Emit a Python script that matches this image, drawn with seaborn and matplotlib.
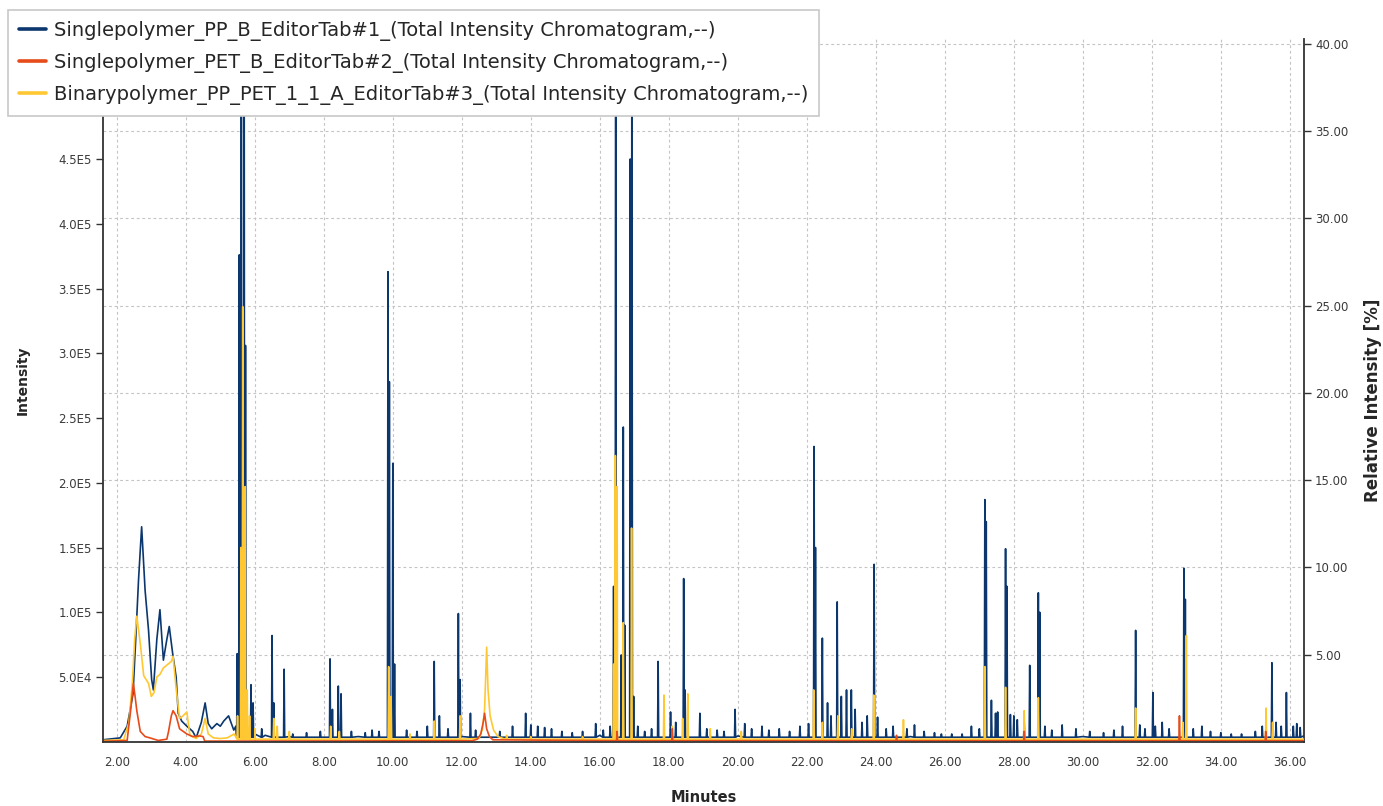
import numpy as np
import pandas as pd
import matplotlib
matplotlib.use("Agg")
import matplotlib.pyplot as plt
import seaborn as sns

# --- series labels / colours -------------------------------------------------
labels = [
    "Singlepolymer_PP_B_EditorTab#1_(Total Intensity Chromatogram,--)",
    "Singlepolymer_PET_B_EditorTab#2_(Total Intensity Chromatogram,--)",
    "Binarypolymer_PP_PET_1_1_A_EditorTab#3_(Total Intensity Chromatogram,--)",
]
colors = ["#0b376e", "#e64b19", "#ffc832"]

# --- PP (blue): slow profile + sharp peaks -----------------------------------
pp_base_t = [1.60, 2.10, 2.30, 2.47, 2.55, 2.63, 2.72, 2.82, 2.92, 3.01, 3.06, 3.16,
             3.25, 3.35, 3.45, 3.52, 3.62, 3.72, 3.78, 3.88, 4.03, 4.20, 4.30, 4.45,
             4.56, 4.65, 4.75, 4.90, 5.00, 5.10, 5.24, 5.39, 5.45, 6.00, 6.30, 7.00,
             9.00, 12.0, 16.0, 20.0, 25.0, 30.0, 36.4]
pp_base_i = [1500, 3000, 12000, 37000, 80000, 125000, 166000, 117000, 86000, 48000, 40000, 79000,
             102000, 63000, 79000, 89000, 68000, 50000, 22000, 16000, 12000, 8000, 3000, 15000,
             30000, 14000, 10000, 14000, 12000, 16000, 20000, 9000, 12000, 6000, 5000, 4000,
             4000, 4000, 5000, 4500, 4000, 4000, 4500]
pp_peak_t = [5.49, 5.55, 5.61, 5.69, 5.73, 5.89, 5.95, 6.20, 6.50, 6.55, 6.85, 7.10, 7.50, 7.90,
             8.18, 8.25, 8.42, 8.50, 8.80, 9.20, 9.40, 9.60, 9.86, 9.90, 10.00, 10.05, 10.40,
             10.70, 11.00, 11.20, 11.35, 11.60, 11.90, 11.95, 12.25, 12.40, 13.10, 13.47, 13.85,
             14.00, 14.20, 14.40, 14.60, 14.90, 15.20, 15.50, 15.88, 16.10, 16.30, 16.40, 16.46,
             16.62, 16.68, 16.72, 16.88, 16.93, 16.98, 17.10, 17.30, 17.50, 17.69, 18.05, 18.20,
             18.43, 18.47, 18.90, 19.10, 19.40, 19.60, 19.92, 20.20, 20.40, 20.70, 20.90, 21.20,
             21.50, 21.80, 22.05, 22.21, 22.25, 22.45, 22.60, 22.70, 22.88, 23.00, 23.15, 23.29,
             23.40, 23.60, 23.75, 23.95, 24.05, 24.30, 24.50, 24.90, 25.12, 25.40, 25.70, 25.90,
             26.20, 26.50, 26.77, 27.00, 27.16, 27.20, 27.35, 27.47, 27.53, 27.76, 27.80, 27.90,
             28.00, 28.10, 28.30, 28.46, 28.71, 28.75, 28.90, 29.10, 29.40, 29.80, 30.20, 30.60,
             30.90, 31.15, 31.53, 31.65, 31.80, 32.03, 32.10, 32.30, 32.50, 32.93, 32.97, 33.20,
             33.45, 33.70, 34.00, 34.30, 34.60, 35.00, 35.20, 35.48, 35.60, 35.75, 35.90, 36.10,
             36.20, 36.30]
pp_peak_i = [68000, 376000, 620000, 620000, 306000, 44000, 30000, 10000, 82000, 30000, 56000, 6000, 7000, 8000,
             64000, 25000, 43000, 37000, 8000, 7000, 9000, 8000, 363000, 278000, 215000, 60000, 9000,
             8000, 12000, 62000, 20000, 10000, 99000, 48000, 22000, 9000, 8000, 12000, 22000,
             13000, 12000, 11000, 10000, 8000, 7000, 8000, 14000, 9000, 12000, 120000, 620000,
             67000, 243000, 90000, 450000, 620000, 35000, 12000, 8000, 10000, 62000, 23000, 15000,
             126000, 40000, 22000, 10000, 9000, 8000, 25000, 14000, 10000, 12000, 9000, 10000,
             8000, 12000, 14000, 228000, 150000, 80000, 30000, 20000, 108000, 35000, 40000, 40000,
             25000, 15000, 20000, 137000, 19000, 10000, 12000, 10000, 13000, 8000, 7000, 6000,
             6000, 6000, 12000, 10000, 187000, 170000, 32000, 22000, 23000, 149000, 120000, 21000,
             20000, 17000, 15000, 59000, 115000, 100000, 12000, 9000, 13000, 10000, 8000, 7000,
             9000, 12000, 86000, 13000, 10000, 38000, 12000, 15000, 10000, 134000, 110000, 10000,
             12000, 8000, 7000, 6000, 6000, 8000, 12000, 61000, 15000, 12000, 38000, 12000,
             14000, 11000]

# --- PET (red) -----------------------------------------------------------------
pet_base_t = [1.60, 2.30, 2.40, 2.48, 2.53, 2.58, 2.68, 2.82, 2.96, 3.20, 3.45, 3.50, 3.58,
              3.63, 3.72, 3.82, 4.03, 4.20, 4.40, 4.50, 4.55, 12.30, 12.45, 12.55, 12.62,
              12.66, 12.72, 12.80, 12.90, 36.4]
pet_base_i = [300, 1000, 24000, 45000, 35000, 24000, 8000, 4000, 3000, 1000, 2000, 8000, 20000,
              24000, 20000, 10000, 6000, 4000, 4500, 4000, 500, 800, 2000, 6000, 15000,
              22000, 10000, 4000, 1500, 800]
pet_peak_t = [16.50, 18.10, 24.60, 28.30, 32.80, 35.30]
pet_peak_i = [8000, 10000, 5000, 8000, 20000, 8000]

# --- Binary PP/PET (yellow) --------------------------------------------------
bin_base_t = [1.60, 2.20, 2.35, 2.45, 2.52, 2.58, 2.68, 2.78, 2.92, 3.00, 3.08, 3.16, 3.25,
              3.35, 3.49, 3.58, 3.63, 3.72, 3.82, 3.92, 4.03, 4.12, 4.30, 4.45, 4.56, 4.65,
              4.80, 5.00, 5.20, 5.40, 6.00, 12.50, 12.60, 12.66, 12.72, 12.76, 12.82, 12.92,
              13.05, 13.20, 20.0, 36.4]
bin_base_i = [1000, 1500, 15000, 45000, 80000, 97000, 76000, 51000, 45000, 35000, 38000, 50000, 52000,
              57000, 60000, 62000, 66000, 41000, 18000, 20000, 23000, 5000, 2500, 6000, 18000, 6000,
              3000, 2500, 3000, 6000, 3000, 2500, 10000, 25000, 73000, 40000, 20000, 9000,
              4000, 2500, 2000, 2000]
bin_peak_t = [5.50, 5.60, 5.65, 5.72, 5.78, 5.85, 6.00, 6.55, 6.65, 7.00, 8.20, 8.45, 9.88, 9.95,
              10.50, 11.20, 11.95, 13.30, 14.00, 15.50, 16.40, 16.45, 16.50, 16.68, 16.92, 17.86,
              18.10, 18.40, 18.55, 19.20, 20.10, 22.20, 22.45, 22.90, 23.30, 23.94, 24.80, 27.16,
              27.76, 28.30, 28.71, 31.53, 32.90, 33.00, 35.31, 35.50]
bin_peak_i = [20000, 150000, 336000, 197000, 40000, 20000, 10000, 18000, 12000, 8000, 12000, 8000, 58000, 35000,
              6000, 16000, 20000, 5000, 4000, 4000, 60000, 221000, 197000, 92000, 165000, 36000,
              12000, 18000, 37000, 10000, 8000, 40000, 15000, 20000, 10000, 36000, 17000, 58000,
              42000, 24000, 34000, 26000, 15000, 82000, 26000, 15000]

x_ticks = [2, 4, 6, 8, 10, 12, 14, 16, 18, 20, 22, 24, 26, 28, 30, 32, 34, 36]
left_ticks = [5e4, 1e5, 1.5e5, 2e5, 2.5e5, 3e5, 3.5e5, 4e5, 4.5e5]
left_ticklabels = ["5.0E4", "1.0E5", "1.5E5", "2.0E5", "2.5E5", "3.0E5", "3.5E5", "4.0E5", "4.5E5"]
right_ticks = [5, 10, 15, 20, 25, 30, 35, 40]

HW = 0.016       # half width of a drawn spike (minutes)
YMAX = 542700    # intensity at top of the plot
PMAX = 40.29     # relative intensity at top of the plot


def build_trace(base_t, base_i, peak_t, peak_i, floor):
    rows = list(zip(base_t, base_i))
    for t, h in zip(peak_t, peak_i):
        rows += [(t - HW, floor), (t, h), (t + HW, floor)]
    df = pd.DataFrame(rows, columns=["Minutes", "Intensity"])
    return df.sort_values("Minutes", kind="stable").reset_index(drop=True)


pp = build_trace(pp_base_t, pp_base_i, pp_peak_t, pp_peak_i, 3500)
pet = build_trace(pet_base_t, pet_base_i, pet_peak_t, pet_peak_i, 800)
binary = build_trace(bin_base_t, bin_base_i, bin_peak_t, bin_peak_i, 2000)

sns.set_style("white")
plt.rcParams["font.family"] = ["DejaVu Sans"]

fig = plt.figure(figsize=(13.83, 8.06), dpi=100)
ax = fig.add_axes([103 / 1383, 1 - 741.75 / 806, 1201 / 1383, 702.75 / 806])
ax2 = ax.twinx()

lw = 1.2
sns.lineplot(data=pp, x="Minutes", y="Intensity", ax=ax, color=colors[0], lw=lw,
             sort=False, estimator=None)
sns.lineplot(data=binary, x="Minutes", y="Intensity", ax=ax, color=colors[2], lw=lw,
             sort=False, estimator=None)
sns.lineplot(data=pet, x="Minutes", y="Intensity", ax=ax, color=colors[1], lw=lw,
             sort=False, estimator=None)

ax.set_xlim(1.60, 36.41)
ax.set_ylim(0, YMAX)
ax2.set_ylim(0, PMAX)

spine_c = "#333333"
tick_c = "#3a3a3a"
ax.set_xticks(x_ticks)
ax.set_xticklabels([f"{v:.2f}" for v in x_ticks])
ax.set_yticks(left_ticks)
ax.set_yticklabels(left_ticklabels)
ax2.set_yticks(right_ticks)
ax2.set_yticklabels([f"{v:.2f}" for v in right_ticks])

for a in (ax, ax2):
    a.tick_params(length=5, width=1, color=spine_c, labelsize=8.5, labelcolor=tick_c, pad=3)
    a.spines["top"].set_visible(False)
    for s in ("left", "right", "bottom"):
        a.spines[s].set_color(spine_c)
        a.spines[s].set_linewidth(1.3)
ax.tick_params(axis="x", pad=5)
ax.spines["right"].set_visible(False)
ax2.spines["left"].set_visible(False)
ax2.spines["bottom"].set_visible(False)

grid_kw = dict(color="#c4c4c4", linestyle=(0, (2.5, 2.5)), linewidth=0.8)
ax.grid(axis="x", **grid_kw)
ax.grid(axis="y", visible=False)
ax2.grid(axis="y", **grid_kw)
ax.set_zorder(ax2.get_zorder() + 1)
ax.patch.set_visible(False)

ax.set_xlabel("Minutes", fontsize=10.5, fontweight="bold")
ax.set_ylabel("Intensity", fontsize=10, fontweight="bold")
ax2.set_ylabel("Relative Intensity [%]", fontsize=12, fontweight="bold")
ax.xaxis.set_label_coords(0.5, -0.068)
ax.yaxis.set_label_coords(-0.061, 0.515)
ax2.yaxis.set_label_coords(1.050, 0.486)

handles = ax.get_lines()[:3]
handles = [handles[0], handles[2], handles[1]]
leg = fig.legend(handles, labels, loc="upper left",
                 bbox_to_anchor=(8 / 1383, 1 - 10 / 806), bbox_transform=fig.transFigure,
                 fontsize=14, frameon=True, fancybox=False, framealpha=1,
                 edgecolor="#c8c8c8", borderpad=0.55, labelspacing=0.63,
                 handlelength=1.4, handletextpad=0.4, borderaxespad=0)
leg.get_frame().set_linewidth(1.2)
for line in leg.get_lines():
    line.set_linewidth(2.6)

fig.savefig("out.png", dpi=100)
